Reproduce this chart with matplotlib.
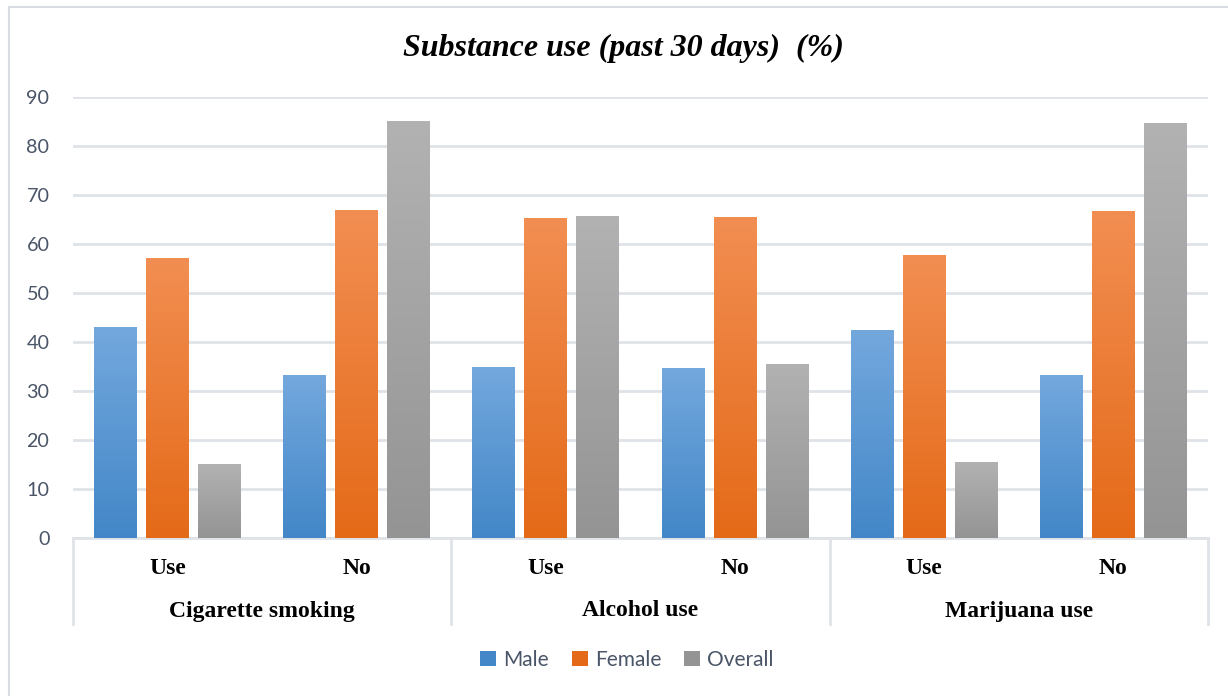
import numpy as np
import matplotlib
matplotlib.use("Agg")
import matplotlib.pyplot as plt
from matplotlib.colors import LinearSegmentedColormap
from matplotlib.patches import Patch, Rectangle
from matplotlib.transforms import blended_transform_factory

# Substance use in the past 30 days, by sex (%)
groups = ["Cigarette smoking", "Alcohol use", "Marijuana use"]
answers = ["Use", "No"]
series = ["Male", "Female", "Overall"]
male = [43.0, 33.2, 34.8, 34.6, 42.4, 33.2]
female = [57.0, 66.8, 65.2, 65.4, 57.6, 66.6]
overall = [14.9, 84.9, 65.6, 35.4, 15.3, 84.5]

# top / bottom shades of each bar's vertical gradient
shades = {
    "Male": ("#73a8dd", "#4387c8"),
    "Female": ("#f28e52", "#e46a18"),
    "Overall": ("#b2b2b2", "#949494"),
}

W, H = 1228, 696
fig = plt.figure(figsize=(W / 100, H / 100), dpi=100)
fig.patch.set_facecolor("white")

# thin frame around the chart area
fig.patches.append(Rectangle((9 / W, -0.1), 1.2, (H - 7) / H + 0.1, transform=fig.transFigure,
                             fill=False, edgecolor="#d9dce1", linewidth=1.5))

ax = fig.add_axes([73 / W, 158 / H, (1208 - 73) / W, (538 - 96.7) / H])

grid_col = "#dfe3e8"
label_col = "#4a5568"

x = np.arange(len(male))
width = 0.227
step = 0.275
values = [male, female, overall]

grad = np.linspace(1, 0, 256).reshape(-1, 1)
for k, (name, vals) in enumerate(zip(series, values)):
    top, bottom = shades[name]
    cmap = LinearSegmentedColormap.from_list(name, [bottom, top])
    for xi, v in zip(x, vals):
        x0 = xi + (k - 1) * step - width / 2
        ax.imshow(grad, cmap=cmap, extent=[x0, x0 + width, 0, v], aspect="auto",
                  origin="upper", zorder=3, interpolation="bilinear")

ax.set_xlim(-0.5, len(male) - 0.5)
ax.set_ylim(0, 90)
ax.set_yticks(np.arange(0, 91, 10))
ax.set_xticks([])
ax.yaxis.grid(True, color=grid_col, linewidth=2)
ax.set_axisbelow(True)
for side in ["top", "right", "left"]:
    ax.spines[side].set_visible(False)
ax.spines["bottom"].set_color(grid_col)
ax.spines["bottom"].set_linewidth(2)
ax.tick_params(axis="y", length=0, pad=17, labelsize=14.2, labelcolor=label_col)
for lbl in ax.get_yticklabels():
    lbl.set_family("Lato")

# two-level category axis
trans = blended_transform_factory(ax.transData, ax.transAxes)
ax_h = 538 - 96.7
for i in range(len(male)):
    ax.text(x[i], -(569 - 538) / ax_h, answers[i % 2], transform=trans,
            ha="center", va="center", fontsize=17, fontweight="bold",
            family="Liberation Serif", color="black")
for g, name in enumerate(groups):
    ax.text(2 * g + 0.5, -(611 - 538) / ax_h, name, transform=trans,
            ha="center", va="center", fontsize=17, fontweight="bold",
            family="Liberation Serif", color="black")
for b in np.arange(-0.5, len(male), 2):
    ax.plot([b, b], [0, -(624 - 538) / ax_h], transform=trans, color=grid_col,
            linewidth=2, clip_on=False)

fig.text(623 / W, 1 - 48 / H, "Substance use (past 30 days)  (%)", ha="center", va="center",
         fontsize=23, fontweight="bold", fontstyle="italic", family="Liberation Serif")

handles = [Patch(facecolor=shades[s][1], edgecolor="none") for s in series]
fig.legend(handles, series, loc="center", bbox_to_anchor=(627 / W, 1 - 660 / H), ncol=3,
           frameon=False, prop={"family": "Lato", "size": 15}, labelcolor=label_col,
           handlelength=0.75, handleheight=0.75, handletextpad=0.35, columnspacing=1.1)

fig.savefig("out.png", dpi=100)
